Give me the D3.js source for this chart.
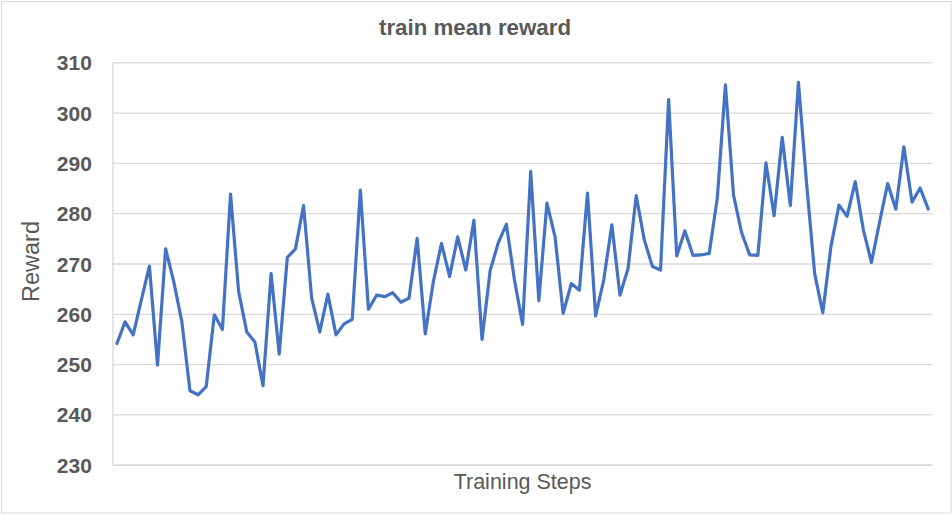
<!DOCTYPE html>
<html>
<head>
<meta charset="utf-8">
<script src="https://cdn.jsdelivr.net/npm/d3@7"></script>
<style>
  html, body { margin: 0; padding: 0; background: #fff; }
  svg { display: block; font-family: "Liberation Sans", Arial, sans-serif; }
</style>
</head>
<body>
<svg id="chart" width="952" height="515"></svg>
<script>
const chartTitle = "train mean reward";
const xTitle = "Training Steps";
const yTitle = "Reward";
const yTicks = [230, 240, 250, 260, 270, 280, 290, 300, 310];
const rewards = [
  254.1, 258.4, 255.8, 262.7, 269.5, 249.8, 272.9, 266.4, 258.4, 244.7,
  243.9, 245.5, 259.8, 256.9, 283.8, 264.4, 256.4, 254.4, 245.7, 268.0,
  252.0, 271.2, 272.9, 281.5, 263.1, 256.4, 263.9, 255.8, 258.0, 258.9,
  284.6, 260.9, 263.7, 263.4, 264.2, 262.3, 263.1, 275.0, 256.0, 266.4,
  274.0, 267.4, 275.3, 268.7, 278.6, 254.9, 268.6, 274.1, 277.8, 266.7,
  257.9, 288.3, 262.6, 282.0, 275.3, 260.1, 266.0, 264.7, 284.0, 259.6,
  266.7, 277.7, 263.7, 269.0, 283.5, 274.7, 269.4, 268.7, 302.6, 271.5,
  276.5, 271.6, 271.7, 272.0, 283.0, 305.5, 283.6, 276.1, 271.7, 271.6,
  290.0, 279.5, 295.1, 281.5, 306.0, 286.0, 268.0, 260.2, 273.3, 281.6,
  279.4, 286.3, 276.7, 270.2, 278.2, 285.9, 280.8, 293.2, 282.2, 285.0,
  280.8
];
const steps = rewards.map((d, i) => i + 1);

const svg = d3.select("#chart");
const W = 952, H = 515;
const plot = { left: 112.9, right: 932.3, top: 62.3, bottom: 464.7 };
const textColor = "#595959";
const gridColor = "#d9d9d9";

// chart border
svg.append("rect")
  .attr("x", 1.5).attr("y", 1.5)
  .attr("width", W - 2.5).attr("height", H - 3.5)
  .attr("fill", "#fff")
  .attr("stroke", gridColor).attr("stroke-width", 1);

const x = d3.scaleBand().domain(steps).range([plot.left, plot.right]).paddingInner(0).paddingOuter(0);
const y = d3.scaleLinear().domain([230, 310]).range([plot.bottom, plot.top]);

// gridlines + y labels via axis
const yAxis = d3.axisLeft(y)
  .tickValues(yTicks)
  .tickSize(-(plot.right - plot.left))
  .tickPadding(21)
  .tickFormat(d3.format("d"));

const gy = svg.append("g")
  .attr("transform", `translate(${plot.left},0)`)
  .call(yAxis);
gy.select(".domain").remove();
gy.selectAll(".tick line").attr("stroke", gridColor).attr("stroke-width", 1.3);
gy.selectAll(".tick text")
  .attr("fill", textColor)
  .attr("font-size", "21px")
  .attr("font-weight", "bold")
  .attr("font-family", "'Liberation Sans', Arial, sans-serif")
  .attr("dy", "0.36em");

// left axis line
svg.append("line")
  .attr("x1", plot.left).attr("x2", plot.left)
  .attr("y1", plot.top).attr("y2", plot.bottom)
  .attr("stroke", gridColor).attr("stroke-width", 1.3);

// bottom axis (no labels)
const xAxis = d3.axisBottom(x).tickValues([]).tickSizeOuter(0);
const gx = svg.append("g")
  .attr("transform", `translate(0,${plot.bottom})`)
  .call(xAxis);
gx.select(".domain").attr("stroke", gridColor).attr("stroke-width", 1.3);

// line
const line = d3.line()
  .x((d, i) => x(steps[i]) + x.bandwidth() / 2)
  .y(d => y(d));

svg.append("path")
  .datum(rewards)
  .attr("d", line)
  .attr("fill", "none")
  .attr("stroke", "#4472C4")
  .attr("stroke-width", 3.2)
  .attr("stroke-linejoin", "round")
  .attr("stroke-linecap", "round");

// title
svg.append("text")
  .attr("x", 475).attr("y", 35)
  .attr("text-anchor", "middle")
  .attr("fill", textColor)
  .attr("font-size", "22.3px")
  .attr("font-weight", "bold")
  .text(chartTitle);

// x title
svg.append("text")
  .attr("x", (plot.left + plot.right) / 2).attr("y", 488.5)
  .attr("text-anchor", "middle")
  .attr("fill", textColor)
  .attr("font-size", "21.5px")
  .text(xTitle);

// y title
svg.append("text")
  .attr("transform", `translate(39,${(plot.top + plot.bottom) / 2 - 2}) rotate(-90)`)
  .attr("text-anchor", "middle")
  .attr("fill", textColor)
  .attr("font-size", "23.5px")
  .text(yTitle);
</script>
</body>
</html>
